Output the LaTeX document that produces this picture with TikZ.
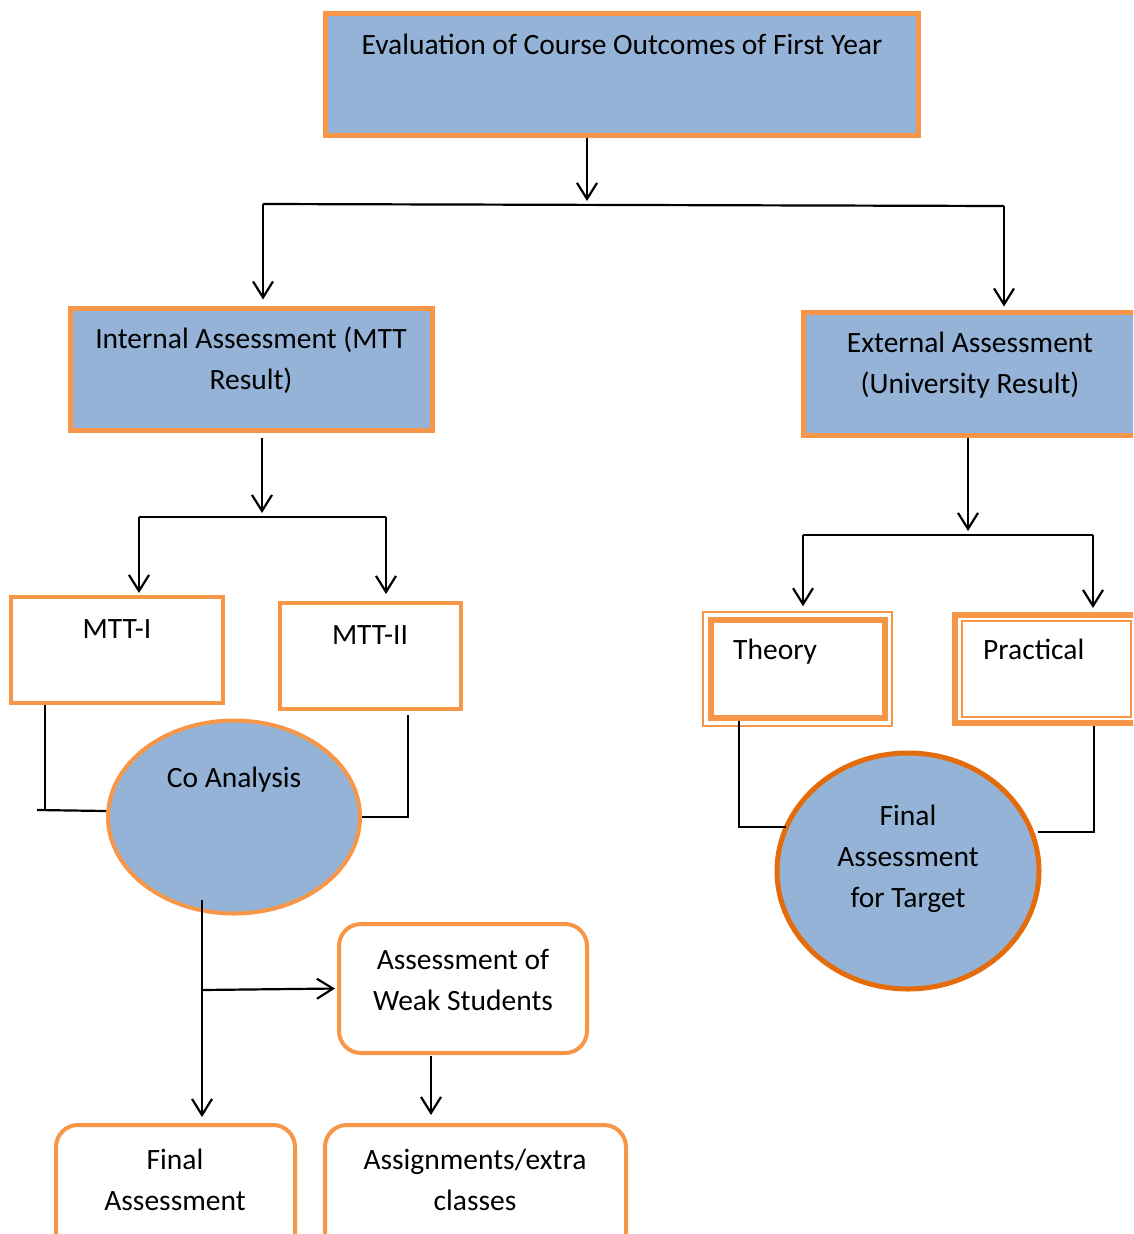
\documentclass[tikz,border=0pt]{standalone}
\usepackage{fontspec}
\setmainfont{Carlito}
\usetikzlibrary{arrows.meta,shapes.geometric}
\definecolor{boxblue}{HTML}{95B3D7}
\definecolor{boxorange}{HTML}{F79646}
\definecolor{darkorange}{HTML}{E46C0A}
\begin{document}
\begin{tikzpicture}[x=1pt,y=-1pt,
  ln/.style={line width=2.2pt,black},
  arr/.style={ln,-{Straight Barb[length=16pt,width=20pt,line width=2.2pt]}},
  bluebox/.style={draw=boxorange,line width=5pt,fill=boxblue,rectangle,inner sep=0pt},
  whitebox/.style={draw=boxorange,line width=4pt,fill=white,rectangle,inner sep=0pt},
  roundbox/.style={draw=boxorange,line width=4pt,fill=white,rectangle,rounded corners=22pt,inner sep=0pt},
  blueell/.style={draw=boxorange,line width=4pt,fill=boxblue,ellipse,inner sep=0pt},
  thinframe/.style={draw=boxorange,line width=1.5pt,rectangle,inner sep=0pt,fill=white},
  thickframe/.style={draw=boxorange,line width=6pt,rectangle,inner sep=0pt},
  txt/.style={font=\fontsize{29.5}{41}\selectfont,align=center,anchor=base,inner sep=0pt},
]
\useasboundingbox (0,0) rectangle (1133,1234);
\clip (0,0) rectangle (1133,1234);

% boxes
\node[bluebox,minimum width=593pt,minimum height=122pt] (top) at (621.5,74) {};
\node[bluebox,minimum width=362pt,minimum height=122pt] (int) at (251,369) {};
\node[bluebox,minimum width=337pt,minimum height=123pt] (ext) at (971.5,373.5) {};
\node[whitebox,minimum width=212pt,minimum height=106pt] (mtt1) at (117,650) {};
\node[whitebox,minimum width=181pt,minimum height=106pt] (mtt2) at (370.5,656) {};
\node[blueell,minimum width=252pt,minimum height=193pt] (co) at (234,817) {};
\node[thinframe,minimum width=189pt,minimum height=114pt] (theo) at (797.5,669) {};
\node[thickframe,minimum width=174pt,minimum height=98pt] (theoin) at (798,669) {};
\node[thickframe,fill=white,minimum width=190pt,minimum height=108pt] (prac) at (1050,669) {};
\node[thinframe,minimum width=169pt,minimum height=96pt] (pracin) at (1046.5,669) {};
\node[draw=darkorange,line width=5pt,fill=boxblue,ellipse,inner sep=0pt,minimum width=262pt,minimum height=236pt] (fin) at (908,871) {};
\node[roundbox,minimum width=248pt,minimum height=129pt] (weak) at (463,988.5) {};
\node[roundbox,minimum width=239pt,minimum height=140pt] (fa) at (175.5,1195) {};
\node[roundbox,minimum width=301pt,minimum height=140pt] (asg) at (475.5,1195) {};

% texts (anchor = baseline of last line)
\node[txt] (topt) at (622,54) {Evaluation of Course Outcomes of First Year};
\node[txt] (intt) at (251,389) {Internal Assessment (MTT\\Result)};
\node[txt] (extt) at (970,393) {External Assessment\\(University Result)};
\node[txt] (mtt1t) at (117,638) {MTT-I};
\node[txt] (mtt2t) at (370,644) {MTT-II};
\node[txt] (cot) at (234,787) {Co Analysis};
\node[txt,anchor=base west] (theot) at (733,659) {Theory};
\node[txt,anchor=base west] (pract) at (983,659) {Practical};
\node[txt] (fint) at (908,907) {Final\\Assessment\\for Target};
\node[txt] (weakt) at (463,1010) {Assessment of\\Weak Students};
\node[txt] (fat) at (175,1210) {Final\\Assessment};
\node[txt] (asgt) at (475,1210) {Assignments/extra\\classes};

% junction coordinates
\coordinate (t1) at (587,201);
\coordinate (hl) at (263,204);
\coordinate (hr) at (1004,206);
\coordinate (i1) at (262,513);
\coordinate (il) at (139,517);
\coordinate (ir) at (386,517);
\coordinate (e1) at (968,531);
\coordinate (el) at (803,535);
\coordinate (er) at (1093,535);
\coordinate (m1) at (45,810);
\coordinate (m1l) at (37,810);
\coordinate (m1r) at (106,811);
\coordinate (m2) at (408,817);
\coordinate (p1) at (739,827);
\coordinate (p1r) at (786,827);
\coordinate (p2) at (1094,832);
\coordinate (p2l) at (1038,832);
\coordinate (c0) at (202,900);
\coordinate (c1) at (202,990);
\coordinate (w1) at (431,1056);

% connectors
\draw[arr] (top.south -| t1) -- (t1);
\draw[ln] (hl) -- (hr);
\draw[arr,shorten >=6pt] (hl) -- (int.north -| hl);
\draw[arr,shorten >=3pt] (hr) -- (ext.north -| hr);
\draw[arr] ([yshift=-5pt]int.south -| i1) -- (i1);
\draw[ln] (il) -- (ir);
\draw[arr,shorten >=2pt] (il) -- (mtt1.north -| il);
\draw[arr,shorten >=7pt] (ir) -- (mtt2.north -| ir);
\draw[arr] (ext.south -| e1) -- (e1);
\draw[ln] (el) -- (er);
\draw[arr,shorten >=5pt] (el) -- (theo.north -| el);
\draw[arr,shorten >=4pt] (er) -- (prac.north -| er);
\draw[ln] (mtt1.south -| m1) -- (m1);
\draw[ln] (m1l) -- (m1r);
\draw[ln] ([yshift=-4pt]mtt2.south -| m2) -- (m2) -- (co.east);
\draw[ln] (theoin.south -| p1) -- (p1) -- (p1r);
\draw[ln] (prac.south -| p2) -- (p2) -- (p2l);
\draw[arr,shorten >=6pt] (c0) -- (fa.north -| c0);
\draw[arr,shorten >=2pt] (c1) -- (weak.west);
\draw[arr,shorten >=8pt] (w1) -- (asg.north -| w1);
\end{tikzpicture}
\end{document}
